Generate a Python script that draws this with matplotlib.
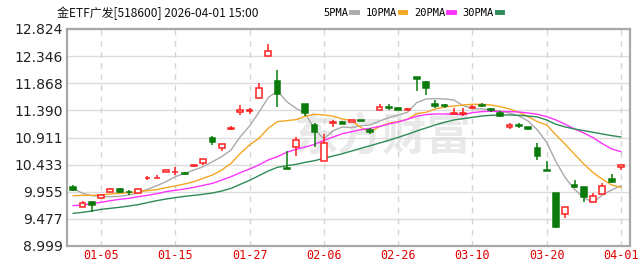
import numpy as np
import matplotlib
matplotlib.use("Agg")
import matplotlib.pyplot as plt
from matplotlib.lines import Line2D

plt.rcParams['font.family'] = ['DejaVu Sans', 'Noto Sans CJK SC']

title = "金ETF广发[518600] 2026-04-01 15:00"

# trading days shown on the chart
dates = ["12-29", "12-30", "12-31",
         "01-05", "01-06", "01-07", "01-08", "01-09",
         "01-12", "01-13", "01-14", "01-15", "01-16",
         "01-19", "01-20", "01-21", "01-22", "01-23",
         "01-26", "01-27", "01-28", "01-29", "01-30",
         "02-02", "02-03", "02-04", "02-05", "02-06",
         "02-09", "02-10", "02-11", "02-12", "02-13",
         "02-24", "02-25", "02-26", "02-27",
         "03-02", "03-03", "03-04", "03-05", "03-06",
         "03-09", "03-10", "03-11", "03-12", "03-13",
         "03-16", "03-17", "03-18", "03-19", "03-20",
         "03-23", "03-24", "03-25", "03-26", "03-27",
         "03-30", "03-31", "04-01"]
tick_dates = ["01-05", "01-15", "01-27", "02-06", "02-26", "03-10", "03-20", "04-01"]
y_ticks = [8.999, 9.477, 9.955, 10.433, 10.911, 11.390, 11.868, 12.346, 12.824]
y_labels = ["8.999", "9.477", "9.955", "10.433", "10.911", "11.390", "11.868", "12.346", "12.824"]

opens = [10.033, 9.686, 9.769, 9.839, 9.945, 9.998, 9.957, 9.939, 10.192, 10.192,
         10.303, 10.297, 10.292, 10.415, 10.468, 10.897, 10.732, 11.067, 11.367, 11.379,
         11.614, 12.354, 11.913, 10.374, 10.744, 11.496, 11.132, 10.497, 11.167, 11.185,
         11.179, 11.220, 11.038, 11.390, 11.455, 11.437, 11.390, 11.978, 11.896, 11.502,
         11.478, 11.320, 11.326, 11.426, 11.490, 11.408, 11.349, 11.102, 11.132, 11.091,
         10.732, 10.333, 9.927, 9.563, 10.074, 10.033, 9.780, 9.910, 10.180, 10.386]
highs = [10.068, 9.798, 9.798, 9.892, 10.015, 10.021, 9.992, 9.998, 10.233, 10.245,
         10.344, 10.391, 10.309, 10.433, 10.527, 10.932, 10.791, 11.108, 11.484, 11.437,
         11.866, 12.554, 12.101, 10.673, 10.926, 11.496, 11.161, 10.967, 11.226, 11.202,
         11.226, 11.226, 11.085, 11.496, 11.496, 11.443, 11.431, 11.984, 11.907, 11.567,
         11.508, 11.426, 11.426, 11.484, 11.519, 11.426, 11.373, 11.167, 11.173, 11.097,
         10.820, 10.497, 9.939, 9.692, 10.168, 10.045, 9.939, 10.104, 10.262, 10.433]
lows = [9.962, 9.686, 9.592, 9.839, 9.945, 9.939, 9.898, 9.939, 10.162, 10.192,
        10.303, 10.250, 10.256, 10.397, 10.427, 10.779, 10.674, 11.038, 11.308, 11.320,
        11.614, 12.354, 11.443, 10.362, 10.591, 11.296, 10.744, 10.497, 11.097, 11.144,
        11.179, 11.196, 10.973, 11.390, 11.402, 11.390, 11.390, 11.731, 11.661, 11.426,
        11.426, 11.320, 11.290, 11.420, 11.443, 11.367, 11.267, 11.061, 11.085, 11.038,
        10.515, 10.321, 9.310, 9.498, 10.015, 9.780, 9.780, 9.910, 10.109, 10.344]
closes = [9.992, 9.757, 9.722, 9.892, 10.004, 9.945, 9.945, 9.998, 10.203, 10.203,
          10.344, 10.309, 10.274, 10.433, 10.527, 10.838, 10.791, 11.079, 11.390, 11.390,
          11.778, 12.436, 11.678, 10.362, 10.861, 11.349, 11.003, 10.809, 11.179, 11.155,
          11.226, 11.202, 11.014, 11.449, 11.437, 11.402, 11.414, 11.937, 11.778, 11.473,
          11.461, 11.349, 11.349, 11.449, 11.473, 11.390, 11.296, 11.132, 11.120, 11.067,
          10.591, 10.321, 9.340, 9.692, 10.045, 9.869, 9.880, 10.057, 10.121, 10.433]

ma5 = [10.015, 9.927, 9.886, 9.868, 9.868, 9.874, 9.898, 9.939, 9.998, 10.062,
       10.133, 10.221, 10.280, 10.338, 10.397, 10.485, 10.574, 10.691, 10.926, 11.114,
       11.355, 11.614, 11.731, 11.543, 11.426, 11.337, 11.055, 10.885, 11.032, 11.097,
       11.085, 11.120, 11.132, 11.202, 11.261, 11.308, 11.355, 11.525, 11.590, 11.596,
       11.590, 11.573, 11.473, 11.420, 11.414, 11.396, 11.379, 11.343, 11.290, 11.202,
       11.044, 10.826, 10.485, 10.203, 9.998, 9.851, 9.769, 9.898, 9.986, 10.062]
ma10 = [9.886, 9.892, 9.892, 9.898, 9.916, 9.927, 9.939, 9.957, 9.974, 9.992,
        10.027, 10.057, 10.092, 10.133, 10.192, 10.250, 10.338, 10.456, 10.632, 10.779,
        10.897, 11.073, 11.191, 11.208, 11.226, 11.285, 11.320, 11.308, 11.285, 11.238,
        11.208, 11.085, 11.014, 11.102, 11.161, 11.191, 11.232, 11.332, 11.355, 11.414,
        11.449, 11.467, 11.484, 11.496, 11.496, 11.484, 11.455, 11.414, 11.355, 11.279,
        11.191, 11.132, 10.956, 10.791, 10.615, 10.444, 10.292, 10.174, 10.074, 10.033]
ma20 = [9.710, 9.722, 9.745, 9.769, 9.798, 9.822, 9.839, 9.868, 9.892, 9.921,
        9.957, 9.980, 10.004, 10.033, 10.068, 10.103, 10.162, 10.221, 10.292, 10.356,
        10.427, 10.515, 10.574, 10.650, 10.703, 10.744, 10.791, 10.862, 10.920, 10.979,
        11.014, 11.050, 11.073, 11.108, 11.149, 11.185, 11.232, 11.285, 11.314, 11.326,
        11.326, 11.320, 11.314, 11.349, 11.367, 11.373, 11.367, 11.367, 11.361, 11.343,
        11.320, 11.279, 11.220, 11.144, 11.061, 10.991, 10.908, 10.803, 10.709, 10.662]
ma30 = [9.575, 9.592, 9.616, 9.645, 9.663, 9.681, 9.704, 9.728, 9.763, 9.798,
        9.827, 9.851, 9.874, 9.892, 9.910, 9.933, 9.968, 10.015, 10.086, 10.156,
        10.239, 10.321, 10.386, 10.415, 10.438, 10.474, 10.503, 10.544, 10.585, 10.626,
        10.673, 10.720, 10.767, 10.814, 10.862, 10.914, 10.967, 11.026, 11.079, 11.132,
        11.179, 11.220, 11.243, 11.267, 11.290, 11.302, 11.308, 11.308, 11.302, 11.290,
        11.273, 11.220, 11.144, 11.097, 11.061, 11.032, 11.003, 10.973, 10.944, 10.920]

ma_names = ["5PMA", "10PMA", "20PMA", "30PMA"]
ma_colors = ["#aaaaaa", "#f5a623", "#ff33ff", "#2e8b57"]

up_col = "#ff2020"
down_col = "#0a7a0a"

fig = plt.figure(figsize=(6.4, 2.65), dpi=100)
ax = fig.add_axes([0.105, 0.0717, 0.879, 0.819])

x = np.arange(len(dates))
o = np.array(opens)
c = np.array(closes)
h = np.array(highs)
l = np.array(lows)
up = c >= o

# watermark
ax.text(0.56, 0.50, "东方财富", transform=ax.transAxes, fontsize=32, fontweight="bold",
        color="#e9e9e9", ha="center", va="center", family=["Noto Sans CJK SC"], zorder=0)

# grid
for yt in y_ticks:
    ax.axhline(yt, color="#dcdcdc", lw=1, zorder=1)
tick_pos = [dates.index(d) for d in tick_dates]
for xt in tick_pos:
    ax.axvline(xt, color="#d4d4d4", lw=1, ls=(0, (4, 4)), zorder=1)

# moving averages
for vals, col in zip([ma5, ma10, ma20, ma30], ma_colors):
    ax.plot(x, vals, color=col, lw=1.0, zorder=2)

# candles
w = 0.62
ax.vlines(x[up], l[up], h[up], color=up_col, lw=1.1, zorder=3)
ax.vlines(x[~up], l[~up], h[~up], color=down_col, lw=1.1, zorder=3)
body_lo = np.minimum(o, c)
body_h = np.maximum(np.abs(c - o), 0.012)
ax.bar(x[up], body_h[up], w, bottom=body_lo[up], facecolor="white",
       edgecolor=up_col, linewidth=1.1, zorder=4)
ax.bar(x[~up], body_h[~up], w, bottom=body_lo[~up], facecolor=down_col,
       edgecolor=down_col, linewidth=1.1, zorder=4)

ax.set_xlim(-0.65, len(dates) - 1 + 0.95)
ax.set_ylim(y_ticks[0], y_ticks[-1])
ax.set_yticks(y_ticks)
ax.set_yticklabels(y_labels, fontsize=10, color="#222222")
ax.set_xticks(tick_pos)
ax.set_xticklabels(tick_dates, fontsize=8.5, color="#e00000", family="DejaVu Sans Mono")
ax.tick_params(length=0, pad=3)
ax.tick_params(axis="x", pad=2)
for sp in ax.spines.values():
    sp.set_color("#a8a8a8")
    sp.set_linewidth(1.6)

fig.text(0.089, 0.951, title, fontsize=8.6, ha="left", va="center",
         family=["Noto Sans CJK SC", "DejaVu Sans"], color="#111111")

handles = [Line2D([], [], color=col, lw=3.5) for col in ma_colors]
fig.legend(handles, ma_names, loc="center left", bbox_to_anchor=(0.505, 0.951),
           ncol=4, frameon=False, markerfirst=False, handlelength=0.55,
           handletextpad=0.3, columnspacing=0.8, borderpad=0, borderaxespad=0,
           prop={"family": "DejaVu Sans Mono", "size": 7.5})

fig.savefig("out.png", dpi=100)
